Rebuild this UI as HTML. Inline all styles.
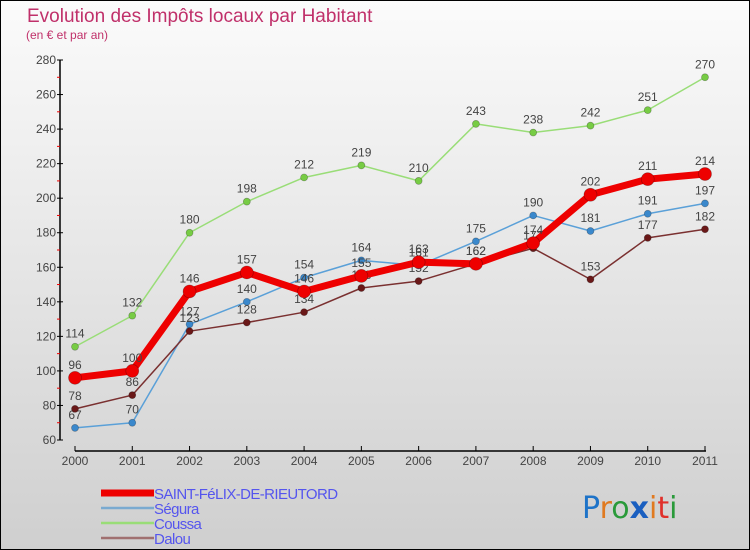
<!DOCTYPE html>
<html><head><meta charset="utf-8"><style>
body{margin:0}
#c{width:750px;height:550px;position:relative;box-sizing:border-box;border:1px solid #000;background:linear-gradient(#fbfbfb,#cfcfcf);font-family:"Liberation Sans",sans-serif;overflow:hidden}
</style></head><body>
<div id="c">
<svg id="s" width="750" height="550" style="position:absolute;left:-1px;top:-1px">
<text x="27" y="22" font-size="19" fill="#c0306a">Evolution des Impôts locaux par Habitant</text>
<text x="26" y="39" font-size="12" fill="#c0306a">(en € et par an)</text>
<g id="ax"></g><g id="ln"></g><g id="lg"></g>
<text x="582" y="518" font-size="30" font-family="DejaVu Sans" fill="#1e73c8">P<tspan fill="#e07a20">r</tspan><tspan fill="#2a9a3a">o</tspan><tspan fill="#1a5fc0" font-weight="bold">x</tspan><tspan fill="#e07a20">i</tspan><tspan fill="#e0302a">t</tspan><tspan fill="#2a9a3a">i</tspan></text>
</svg>
</div>
<script>
const years=[2000,2001,2002,2003,2004,2005,2006,2007,2008,2009,2010,2011];
const yTicks=[60,80,100,120,140,160,180,200,220,240,260,280];
const saint=[96,100,146,157,146,155,163,162,174,202,211,214];
const segura=[67,70,127,140,154,164,161,175,190,181,191,197];
const coussa=[114,132,180,198,212,219,210,243,238,242,251,270];
const dalou=[78,86,123,128,134,148,152,162,171,153,177,182];
const names=["SAINT-FéLIX-DE-RIEUTORD","Ségura","Coussa","Dalou"];
const NS="http://www.w3.org/2000/svg";
const X=i=>75+i*(630/11), Y=v=>440-(v-60)*380/220;
function mk(p,t,a){const e=document.createElementNS(NS,t);for(const k in a)e.setAttribute(k,a[k]);p.appendChild(e);return e;}
const ax=document.getElementById('ax'),ln=document.getElementById('ln'),lg=document.getElementById('lg');
let e=mk(ax,'line',{x1:60,y1:60,x2:60,y2:440,stroke:'#000','stroke-width':1.5});

e=mk(ax,'line',{x1:75,y1:451,x2:706,y2:451,stroke:'#000','stroke-width':1.5});

yTicks.forEach((v,i)=>{mk(ax,'line',{x1:57,y1:Y(v),x2:63,y2:Y(v),stroke:'#000'});
 if(i<yTicks.length-1)mk(ax,'line',{x1:57,y1:Y(v+10),x2:60,y2:Y(v+10),stroke:'#e00'});
 const t=mk(ax,'text',{x:56,y:Y(v)+4,'font-size':12,fill:'#444','text-anchor':'end'});t.textContent=v;
 });
years.forEach((y,i)=>{mk(ax,'line',{x1:X(i),y1:446,x2:X(i),y2:451,stroke:'#000'});
 const t=mk(ax,'text',{x:X(i),y:465,'font-size':12,fill:'#444','text-anchor':'middle'});t.textContent=y;
 });
const series=[
 {d:coussa,c:'#99dd77',w:1.5,r:3.5,f:'#77cc44',n:'coussa'},
 {d:segura,c:'#5aa0d8',w:1.5,r:3.5,f:'#3a88cc',n:'segura'},
 {d:dalou,c:'#7a3030',w:1.5,r:3.5,f:'#6a1818',n:'dalou'},
 {d:saint,c:'#ee0000',w:7,r:6.5,f:'#ee0000',n:'saint-felix'}];
series.forEach(s=>{
 const p=mk(ln,'polyline',{points:s.d.map((v,i)=>X(i)+','+Y(v)).join(' '),fill:'none',stroke:s.c,'stroke-width':s.w,'stroke-linejoin':'round'});
 
 s.d.forEach((v,i)=>{const c=mk(ln,'circle',{cx:X(i),cy:Y(v),r:s.r,fill:s.f,stroke:'rgba(0,0,0,0.3)','stroke-width':0.7});
  
  const t=mk(ln,'text',{x:X(i),y:Y(v)-9,'font-size':12,fill:'#444','text-anchor':'middle'});t.textContent=v;
  });
});
const lc=['#ee0000','#7aaad0','#99dd77','#a07070'],lw=[7,2.5,2.5,2.5];
names.forEach((n,i)=>{const y=493+i*15;
 const l=mk(lg,'line',{x1:101,y1:y,x2:154,y2:y,stroke:lc[i],'stroke-width':lw[i]});
 
 const t=mk(lg,'text',{x:154,y:y+6,'font-size':15,fill:'#5555ee','letter-spacing':'-0.6'});t.textContent=n;
 });
</script>
</body></html>
